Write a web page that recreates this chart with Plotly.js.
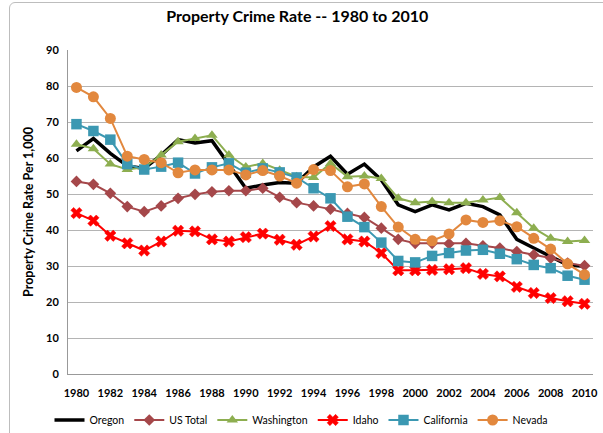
<!DOCTYPE html>
<html><head><meta charset="utf-8">
<script src="https://cdn.plot.ly/plotly-3.0.1.min.js"></script>
<style>
html,body{margin:0;padding:0;background:#fff;}
#frame{position:absolute;left:9px;top:2px;width:620px;height:460px;border:1.5px solid #BDBDBD;border-radius:6px;}
#chart{position:absolute;left:0;top:0;width:603px;height:433px;}
</style></head>
<body>
<div id="frame"></div>
<div id="chart"></div>
<script>
const years = [1980,1981,1982,1983,1984,1985,1986,1987,1988,1989,1990,1991,1992,1993,1994,1995,1996,1997,1998,1999,2000,2001,2002,2003,2004,2005,2006,2007,2008,2009,2010];
const oregon     = [62.0,65.4,61.3,57.8,57.1,60.8,65.1,64.2,64.8,58.2,51.6,52.5,53.2,53.0,57.5,60.5,55.5,58.3,53.9,47.0,45.1,47.0,45.6,47.4,46.5,44.2,37.4,35.0,32.6,30.3,29.9];
const usTotal    = [53.5,52.7,50.2,46.5,45.1,46.7,48.8,49.9,50.6,50.9,50.9,51.6,49.1,47.6,46.7,45.8,44.6,43.5,40.5,37.4,36.3,36.3,36.2,36.3,35.6,35.0,34.0,33.1,32.2,30.8,30.1];
const washington = [63.8,62.6,58.3,56.8,57.4,60.8,64.5,65.4,66.3,60.8,57.5,58.5,56.6,54.8,54.6,58.5,54.8,55.0,54.3,48.8,47.6,47.9,47.6,47.6,48.3,49.0,44.8,40.5,37.7,36.8,37.1];
const idaho      = [44.7,42.6,38.4,36.3,34.3,36.8,39.8,39.6,37.4,36.8,38.0,39.0,37.3,35.9,38.2,41.1,37.4,36.8,33.6,28.8,28.8,28.9,29.1,29.4,27.8,27.1,24.2,22.5,21.1,20.2,19.5];
const california = [69.4,67.5,65.1,58.3,56.8,57.6,58.7,55.7,57.4,58.5,55.9,57.1,56.0,54.6,51.6,48.8,43.7,40.8,36.5,31.4,31.0,32.8,33.6,34.3,34.5,33.4,31.9,30.3,29.4,27.3,26.2];
const nevada     = [79.6,77.0,71.0,60.5,59.6,58.7,55.9,56.7,56.7,56.7,55.3,56.5,55.0,53.0,56.8,56.5,52.0,52.8,46.5,40.8,37.4,37.0,38.9,42.8,42.1,42.6,40.9,37.7,34.7,30.6,27.6];
const xTicks = [1980,1982,1984,1986,1988,1990,1992,1994,1996,1998,2000,2002,2004,2006,2008,2010];
const yTicks = [0,10,20,30,40,50,60,70,80,90];

const F = 'Lato, "Open Sans", sans-serif';
function series(name, y, color, symbol, size, lw){
  const t = {x: years, y: y, name: name, type: 'scatter',
    line: {color: color, width: lw}};
  if (symbol) {
    t.mode = 'lines+markers';
    t.marker = {symbol: symbol, size: size, color: color, line: {color: color, width: symbol==='x'?0.5:0}};
  } else { t.mode = 'lines'; }
  return t;
}
const data = [
  series('Oregon', oregon, '#000000', null, 0, 3.5),
  series('US Total', usTotal, '#A5474A', 'diamond', 9, 2),
  series('Washington', washington, '#8DAE50', 'triangle-up', 10, 2),
  series('Idaho', idaho, '#FF0000', 'x', 10, 2),
  series('California', california, '#3B98B2', 'square', 10.5, 2),
  series('Nevada', nevada, '#E2883E', 'circle', 11, 2)
];
const layout = {
  width: 603, height: 433,
  margin: {l: 68, r: 10, t: 49.5, b: 58.5},
  paper_bgcolor: 'rgba(0,0,0,0)', plot_bgcolor: 'rgba(0,0,0,0)',
  font: {family: F, color: '#000'},
  title: {text: '<b>Property Crime Rate -- 1980 to 2010</b>', font: {size: 16, family: F, color: '#000'}, x: 0.493, xanchor: 'center', y: 0.962, yanchor: 'middle'},
  xaxis: {range: [1979.5, 2010.5], tickvals: xTicks, ticktext: xTicks.map(v => '<b>'+v+'</b>'),
    showgrid: false, zeroline: false, showline: true, linecolor: '#999', linewidth: 1,
    ticks: 'outside', ticklen: 9, tickcolor: 'rgba(0,0,0,0)', tickfont: {size: 11, family: F}, automargin: false},
  yaxis: {range: [0, 90], tickvals: yTicks, ticktext: yTicks.map(v => '<b>'+v+'</b>'),
    showgrid: true, gridcolor: '#B4B4B4', gridwidth: 1, zeroline: false,
    showline: true, linecolor: '#999', linewidth: 1, automargin: false,
    ticks: 'outside', ticklen: 6, tickcolor: 'rgba(0,0,0,0)', tickfont: {size: 11, family: F},
    title: {text: '<b>Property Crime Rate Per 1,000</b>', font: {size: 12.5, family: F}, standoff: 9}},
  legend: {orientation: 'h', xref: 'container', yref: 'container', x: 0.5, xanchor: 'center', y: 0.03, yanchor: 'middle',
    font: {size: 10.5, family: F}, itemwidth: 30, tracegroupgap: 0},
  showlegend: true
};
Plotly.newPlot('chart', data, layout, {displayModeBar: false, staticPlot: true});
</script>
</body></html>
